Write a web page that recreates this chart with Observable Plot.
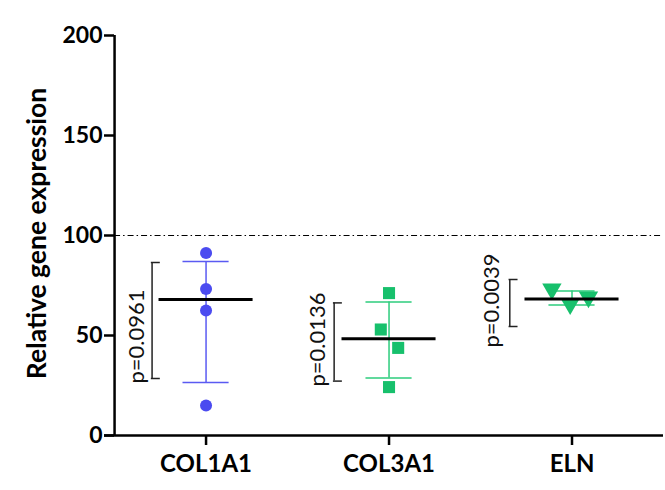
<!DOCTYPE html>
<html>
<head>
<meta charset="utf-8">
<script src="https://cdn.jsdelivr.net/npm/d3@7"></script>
<script src="https://cdn.jsdelivr.net/npm/@observablehq/plot@0.6"></script>
<style>
  html, body { margin: 0; padding: 0; background: #fff; }
  #chart { width: 665px; height: 490px; }
  svg { font-family: Lato, "Open Sans", sans-serif; }
</style>
</head>
<body>
<div id="chart"></div>
<script>
// ---- data ----
const genes = ["COL1A1", "COL3A1", "ELN"];
const col1a1Values = [91.3, 73.3, 62.5, 15.0];
const col3a1Values = [71.2, 53.0, 43.8, 24.2];
const elnValues = [73.2, 65.8, 69.2];
const col1a1Jitter = [0, 0, 0, 0];
const col3a1Jitter = [0, -0.045, 0.05, 0];
const elnJitter = [-0.11, -0.01, 0.09];
const medians = [68.0, 48.4, 68.2];
const errHigh = [87.0, 66.7, 72.2];
const errLow = [26.5, 28.7, 65.3];
const pLabels = ["p=0.0961", "p=0.0136", "p=0.0039"];
const bracketTop = [86.5, 66.3, 78.0];
const bracketBottom = [28.5, 27.2, 54.5];
const pTextCenter = [49.5, 48.0, 67.5];
const yTicks = [0, 50, 100, 150, 200];
const referenceLevel = [100];

// ---- styling ----
const colors = ["#4b4bf0", "#17c06c", "#17c06c"];
const barColors = ["#5a5af2", "#2ccc7c", "#2ccc7c"];
const symbols = ["circle", "square", "triangle"];
const rotations = [0, 0, 180];
const sizes = [6, 6.8, 7.2];
const bracketOffset = [-0.295, -0.30, -0.34];
const textOffset = [-0.375, -0.39, -0.435];

const seriesValues = [col1a1Values, col3a1Values, elnValues];
const seriesJitter = [col1a1Jitter, col3a1Jitter, elnJitter];

const points = [];
seriesValues.forEach((vals, g) => vals.forEach((v, i) => points.push({g, x: g + seriesJitter[g][i], y: v})));
const groups = genes.map((name, g) => ({
  g, name, median: medians[g], hi: errHigh[g], lo: errLow[g],
  bTop: bracketTop[g], bBot: bracketBottom[g], p: pLabels[g], pc: pTextCenter[g]
}));

const capHalf = 0.126, medHalf = 0.257, bracketTick = 0.045;

const marks = [
  // reference line
  Plot.ruleY(referenceLevel, {x1: -0.5, x2: 2.5, stroke: "#000", strokeWidth: 1, strokeDasharray: "6,3,1.5,3"}),
  // error bars
  Plot.ruleX(groups, {x: "g", y1: "lo", y2: "hi", stroke: d => barColors[d.g], strokeWidth: 1.5}),
  Plot.ruleY(groups, {y: "hi", x1: d => d.g - capHalf, x2: d => d.g + capHalf, stroke: d => barColors[d.g], strokeWidth: 1.5}),
  Plot.ruleY(groups, {y: "lo", x1: d => d.g - capHalf, x2: d => d.g + capHalf, stroke: d => barColors[d.g], strokeWidth: 1.5}),
  // points
  ...[0, 1, 2].map(g => Plot.dot(points.filter(p => p.g === g), {
    x: "x", y: "y", r: sizes[g], symbol: () => symbols[g], rotate: rotations[g], fill: colors[g], stroke: "none"
  })),
  // median lines
  Plot.ruleY(groups, {y: "median", x1: d => d.g - medHalf, x2: d => d.g + medHalf, stroke: "#000", strokeWidth: 3}),
  // brackets
  Plot.ruleX(groups, {x: d => d.g + bracketOffset[d.g], y1: "bBot", y2: "bTop", stroke: "#222", strokeWidth: 1.5}),
  Plot.ruleY(groups, {y: "bTop", x1: d => d.g + bracketOffset[d.g] - 0.004, x2: d => d.g + bracketOffset[d.g] + bracketTick, stroke: "#222", strokeWidth: 1.5}),
  Plot.ruleY(groups, {y: "bBot", x1: d => d.g + bracketOffset[d.g] - 0.004, x2: d => d.g + bracketOffset[d.g] + bracketTick, stroke: "#222", strokeWidth: 1.5}),
  Plot.text(groups, {x: d => d.g + textOffset[d.g], y: "pc", text: "p", rotate: -90, fontSize: 22, fill: "#111", textAnchor: "middle", lineAnchor: "middle"}),
  // axes
  Plot.ruleX([-0.5], {y1: 0, y2: 200, stroke: "#000", strokeWidth: 2.5}),
  Plot.ruleY([0], {stroke: "#000", strokeWidth: 2.5}),
  Plot.axisY({ticks: yTicks, dx: 10, tickSize: 10, tickPadding: 2, strokeWidth: 2.5, fontSize: 23, fontWeight: "bold", fill: "#000", label: null}),
  Plot.text(["Relative gene expression"], {frameAnchor: "left", dx: -67, dy: -2, rotate: -90, fontSize: 26.5, fontWeight: "bold", fill: "#000", textAnchor: "middle", lineAnchor: "middle", text: d => d}),
  Plot.axisX({ticks: [0, 1, 2], tickFormat: i => genes[i], tickSize: 10, tickPadding: 9, strokeWidth: 2.5, fontSize: 24, fontWeight: "bold", fill: "#000", label: null})
];

const chart = Plot.plot({
  width: 665,
  height: 490,
  marginLeft: 104,
  marginRight: 2,
  marginTop: 35,
  marginBottom: 55,
  x: {domain: [-0.555, 2.5], range: [104, 663]},
  y: {domain: [0, 200], range: [435, 35]},
  style: {background: "#fff", overflow: "visible"},
  marks
});
document.getElementById("chart").appendChild(chart);
</script>
</body>
</html>
